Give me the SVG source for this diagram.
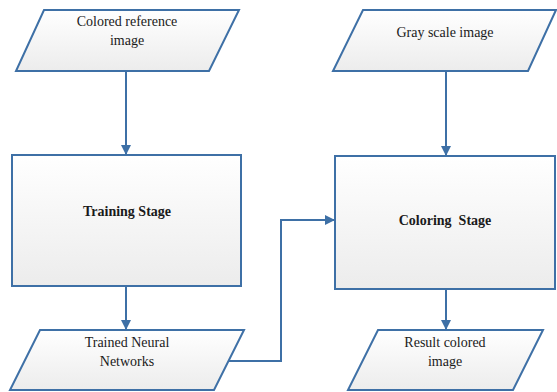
<svg xmlns="http://www.w3.org/2000/svg" width="557" height="392" viewBox="0 0 557 392">
<style>
.shape{fill:url(#g);stroke:#3e70a6;stroke-width:2}
.conn{fill:none;stroke:#3e70a6;stroke-width:2}
.t{font-size:14px;fill:#1a1a1a;text-anchor:middle}
.b{font-weight:bold}
</style>
<defs>
<linearGradient id="g" x1="0" y1="0" x2="0" y2="1">
<stop offset="0" stop-color="#ffffff"/>
<stop offset="1" stop-color="#ececec"/>
</linearGradient>
<marker id="ah" viewBox="0 0 10 10" refX="10" refY="5" markerWidth="5" markerHeight="5" orient="auto" markerUnits="strokeWidth">
<path d="M0,0 L10,5 L0,10 z" fill="#3e70a6"/>
</marker>
</defs>
<g font-family="Liberation Serif, DejaVu Serif, serif">
<g id="colored-ref">
<polygon class="shape" points="44,10 239,10 209,71 16,71"/>
<text class="t" x="127" y="26">Colored reference</text>
<text class="t" x="127" y="45">image</text>
</g>
<g id="gray-scale">
<polygon class="shape" points="363,10 556,10 528,71 333,71"/>
<text class="t" x="445" y="37">Gray scale image</text>
</g>
<g id="training">
<rect class="shape" x="12" y="155" width="229" height="131"/>
<text class="t b" x="127" y="216">Training Stage</text>
</g>
<g id="coloring">
<rect class="shape" x="335" y="156" width="220" height="133"/>
<text class="t b" x="445" y="225" xml:space="preserve">Coloring  Stage</text>
</g>
<g id="trained-nn">
<polygon class="shape" points="40,330 244,330 214,390 10,390"/>
<text class="t" x="127" y="347">Trained Neural</text>
<text class="t" x="127" y="366">Networks</text>
</g>
<g id="result">
<polygon class="shape" points="378,330 543,330 513,390 348,390"/>
<text class="t" x="445" y="347">Result colored</text>
<text class="t" x="445" y="366">image</text>
</g>
</g>
<g id="connectors">
<path class="conn" d="M126,71 V155" marker-end="url(#ah)"/>
<path class="conn" d="M446,71 V156" marker-end="url(#ah)"/>
<path class="conn" d="M126,286 V330" marker-end="url(#ah)"/>
<path class="conn" d="M446,289 V330" marker-end="url(#ah)"/>
<path class="conn" d="M229,361 H281 V220 H335" marker-end="url(#ah)"/>
</g>
</svg>
